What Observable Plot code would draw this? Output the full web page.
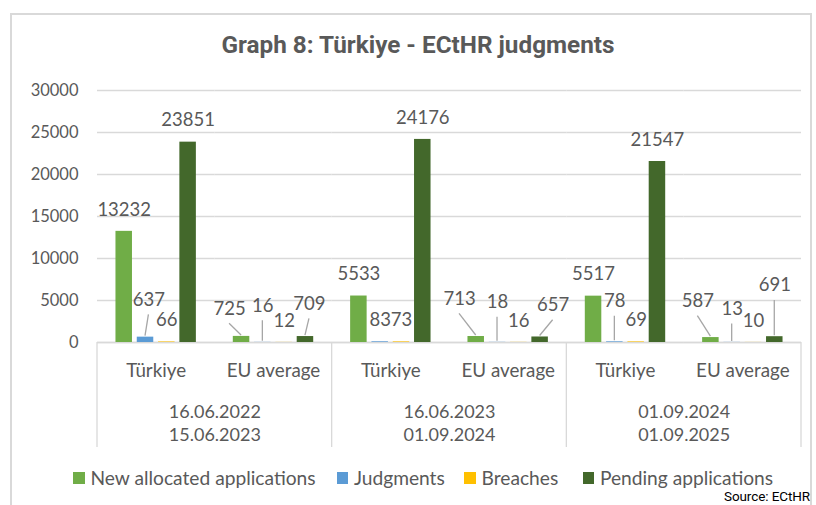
<!DOCTYPE html>
<html>
<head>
<meta charset="utf-8">
<script src="https://cdn.jsdelivr.net/npm/d3@7"></script>
<script src="https://cdn.jsdelivr.net/npm/@observablehq/plot@0.6"></script>
<style>
  html, body { margin: 0; padding: 0; background: #fff; }
  #wrap { position: relative; width: 816px; height: 505px; overflow: hidden; background: #fff; }
  #border { position: absolute; left: 10px; top: 13px; width: 798px; height: 600px; border: 2px solid #d9d9d9; box-sizing: content-box; }
  #title { position: absolute; left: 18px; width: 800px; top: 30px; text-align: center; font-family: Roboto, sans-serif; font-weight: 700; font-size: 24.3px; color: #595959; line-height: 30px; }
  #chart { position: absolute; left: 0; top: 0; }
  .leg { position: absolute; top: 469px; height: 18px; line-height: 18px; display: flex; align-items: center; font-family: Lato, sans-serif; font-size: 19.2px; color: #595959; white-space: nowrap; }
  .leg .sw { width: 11.7px; height: 11.7px; margin-right: 5.5px; display: inline-block; }
  #source { position: absolute; right: 6px; top: 489px; line-height: 14px; font-family: Roboto, sans-serif; font-size: 13.5px; color: #000; letter-spacing: -0.1px; }
</style>
</head>
<body>
<div id="wrap">
  <div id="border"></div>
  <div id="title">Graph 8: Türkiye - ECtHR judgments</div>
  <div id="chart"></div>
  <div id="legend"></div>
  <div id="source">Source: ECtHR</div>
</div>
<script>
// ---- data ----
const periods = ["16.06.2022\n15.06.2023", "16.06.2023\n01.09.2024", "01.09.2024\n01.09.2025"];
const countries = ["Türkiye", "EU average"];
const series = ["New allocated applications", "Judgments", "Breaches", "Pending applications"];
// order: P1 Türkiye, P1 EU average, P2 Türkiye, P2 EU average, P3 Türkiye, P3 EU average
const newAllocated = [13232, 725, 5533, 713, 5517, 587];
const judgments    = [637, 16, 83, 18, 78, 13];
const breaches     = [66, 12, 73, 16, 69, 10];
const pending      = [23851, 709, 24176, 657, 21547, 691];
const yTicks = [0, 5000, 10000, 15000, 20000, 25000, 30000];
const colors = ["#70ad47", "#5b9bd5", "#ffc000", "#43682b"];

// label nudges (pixels) for labels moved off their default spot, with leader lines
const labelNudges = [
  {g: 0, s: 1, dx: 3.4, dy: -15.6},
  {g: 1, s: 0, dx: -12, dy: -6},
  {g: 1, s: 1, dx: 0, dy: -15},
  {g: 1, s: 3, dx: 4, dy: -11},
  {g: 3, s: 0, dx: -16.7, dy: -16},
  {g: 3, s: 1, dx: 0, dy: -18.3},
  {g: 3, s: 3, dx: 13, dy: -10},
  {g: 4, s: 1, dx: 0, dy: -19},
  {g: 5, s: 0, dx: -13, dy: -14.7},
  {g: 5, s: 1, dx: 0, dy: -11.7},
  {g: 5, s: 3, dx: 0, dy: -29.5}
];

// ---- build table ----
const groups = [];
periods.forEach((p, pi) => countries.forEach(c => groups.push({key: pi + "|" + c, period: p, country: c})));
const valuesBySeries = [newAllocated, judgments, breaches, pending];
const rows = [];
groups.forEach((g, gi) => series.forEach((s, si) => {
  const n = labelNudges.find(d => d.g === gi && d.s === si);
  rows.push({group: g.key, country: g.country, series: s, value: valuesBySeries[si][gi],
             dx: n ? n.dx : 0, dy: n ? n.dy : 0, leader: !!n});
}));

const LABEL_OFF = -21.7;
const marks = [
  Plot.gridY({ticks: yTicks, stroke: "#d9d9d9", strokeOpacity: 1, strokeWidth: 1.3}),
  Plot.ruleY([0], {stroke: "#d9d9d9", strokeWidth: 1.3}),
  Plot.axisY({ticks: yTicks, tickSize: 0, tickPadding: 19, fontSize: 16.5, tickFormat: d => String(d), fontFamily: "Lato"}),
  Plot.barY(rows, {fx: "group", x: "series", y: "value", fill: "series"}),
  Plot.text(groups, {fx: "key", text: "country", frameAnchor: "bottom", dy: 28.7, lineAnchor: "middle",
    fontSize: 18.8, fontFamily: "Lato", fill: "#595959"}),
  Plot.text(groups.filter(g => g.country === countries[0]), {fx: "key", text: "period", frameAnchor: "bottom-right",
    textAnchor: "middle", lineAnchor: "middle", dy: 79.7, lineHeight: 1.3, fontSize: 18, fontFamily: "Lato", fill: "#595959"})
];
rows.forEach(r => {
  marks.push(Plot.text([r], {fx: "group", x: "series", y: "value", text: d => String(d.value),
    dx: r.dx, dy: LABEL_OFF + r.dy, lineAnchor: "middle", fontSize: 18.5, fontFamily: "Lato", fill: "#595959"}));
});

const chart = Plot.plot({
  width: 816, height: 460,
  marginTop: 90, marginBottom: 118, marginLeft: 97, marginRight: 15,
  style: {color: "#595959", fontFamily: "Lato", background: "transparent", overflow: "visible"},
  fx: {domain: groups.map(g => g.key), padding: 0, round: false, axis: null, label: null},
  x: {domain: series, paddingInner: 0.2254, paddingOuter: 0.867, round: false, axis: null, label: null},
  y: {domain: [0, 30000], axis: null, label: null},
  color: {domain: series, range: colors},
  marks
});
document.getElementById("chart").appendChild(chart);

// leader lines and category dividers, positioned with Plot's own scales
const fx = chart.scale("fx"), xs = chart.scale("x"), ys = chart.scale("y");
const xOrigin = Math.min(...xs.range);
const svg = d3.select(chart);
const gL = svg.append("g").attr("stroke", "#a6a6a6").attr("stroke-width", 1.3);
rows.filter(r => r.leader).forEach(r => {
  const bx = fx.apply(r.group) + xs.apply(r.series) - xOrigin + xs.bandwidth / 2;
  const top = ys.apply(r.value);
  const lx = bx + r.dx, ly = top + LABEL_OFF + r.dy;
  gL.append("line").attr("x1", lx).attr("y1", ly + 15).attr("x2", bx).attr("y2", Math.min(top - 1, ys.apply(0)));
});
const gD = svg.append("g").attr("stroke", "#d9d9d9").attr("stroke-width", 1.3);
const y0 = ys.apply(0);
const edges = periods.map((p, pi) => fx.apply(pi + "|" + countries[0]));
edges.push(fx.apply((periods.length - 1) + "|" + countries[1]) + fx.bandwidth);
edges.forEach(e => gD.append("line").attr("x1", e).attr("x2", e).attr("y1", y0).attr("y2", y0 + 105));

// legend
const legendLeft = [73.3, 336.7, 464.3, 582.7];
const leg = document.getElementById("legend");
series.forEach((s, i) => {
  const d = document.createElement("div");
  d.className = "leg";
  d.style.left = legendLeft[i] + "px";
  d.innerHTML = '<span class="sw" style="background:' + colors[i] + '"></span>' + s;
  leg.appendChild(d);
});
</script>
</body>
</html>
